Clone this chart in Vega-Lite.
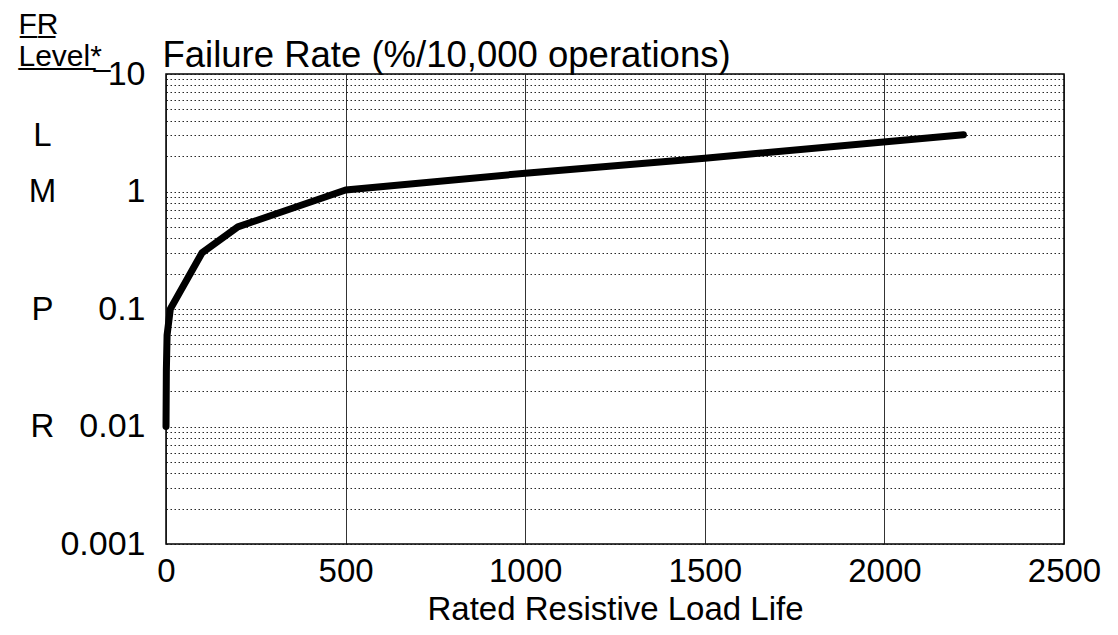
{
  "$schema": "https://vega.github.io/schema/vega-lite/v6.json",
  "autosize": {"type": "none"},
  "width": 898,
  "height": 470,
  "padding": {"left": 166, "top": 74, "right": 54, "bottom": 91},
  "background": "white",
  "config": {
    "view": {"stroke": "black", "strokeWidth": 1.5},
    "font": "Liberation Sans",
    "axis": {"labelFont": "Liberation Sans", "titleFont": "Liberation Sans", "labelColor": "black", "titleColor": "black", "titleFontWeight": "normal"}
  },
  "layer": [
    {
      "data": {"values": [
        {"life": 0, "rate": 0.01},
        {"life": 1, "rate": 0.03},
        {"life": 3, "rate": 0.06},
        {"life": 12, "rate": 0.1},
        {"life": 100, "rate": 0.3},
        {"life": 200, "rate": 0.5},
        {"life": 500, "rate": 1.03},
        {"life": 1000, "rate": 1.43},
        {"life": 1500, "rate": 1.92},
        {"life": 2220, "rate": 3.04}
      ]},
      "mark": {"type": "line", "color": "black", "strokeWidth": 7, "strokeCap": "round", "strokeJoin": "round"},
      "encoding": {
        "x": {
          "field": "life", "type": "quantitative",
          "scale": {"domain": [0, 2500], "nice": false, "zero": false},
          "axis": {
            "title": "Rated Resistive Load Life",
            "values": [0, 500, 1000, 1500, 2000, 2500],
            "format": "d",
            "domain": false, "ticks": false, "tickSize": 0,
            "labelFontSize": 33, "labelPadding": 11, "labelFlush": false, "labelOverlap": false,
            "grid": true, "gridColor": "#111", "gridWidth": 1, "gridOpacity": 0.85,
            "titleFontSize": 33, "titleBaseline": "top", "titleY": 49
          }
        },
        "y": {
          "field": "rate", "type": "quantitative",
          "scale": {"type": "log", "domain": [0.001, 10], "nice": false},
          "axis": {
            "title": "Failure Rate (%/10,000 operations)",
            "titleAngle": 0, "titleAlign": "left", "titleBaseline": "alphabetic",
            "titleX": -4, "titleY": -8, "titleFontSize": 36.5,
            "values": [0.001, 0.002, 0.003, 0.004, 0.005, 0.006, 0.007, 0.008, 0.009,
                       0.01, 0.02, 0.03, 0.04, 0.05, 0.06, 0.07, 0.08, 0.09,
                       0.1, 0.2, 0.3, 0.4, 0.5, 0.6, 0.7, 0.8, 0.9,
                       1, 2, 3, 4, 5, 6, 7, 8, 9, 10],
            "format": "~g",
            "labelExpr": "indexof([0.001, 0.01, 0.1, 1, 10], datum.value) >= 0 ? datum.label : ''",
            "labelOverlap": false, "labelBound": false, "labelFlush": false,
            "labelFontSize": 34, "labelPadding": 21,
            "domain": false, "ticks": false, "tickSize": 0,
            "grid": true, "gridColor": "#111", "gridWidth": 1, "gridDash": [1.5, 2.5], "gridOpacity": 0.9
          }
        }
      }
    },
    {
      "data": {"values": [
        {"level": "L", "rate": 3},
        {"level": "M", "rate": 1},
        {"level": "P", "rate": 0.1},
        {"level": "R", "rate": 0.01}
      ]},
      "mark": {"type": "point", "opacity": 0},
      "encoding": {
        "y": {
          "field": "rate", "type": "quantitative",
          "axis": {
            "orient": "left",
            "title": ["F\u0332R\u0332", "L\u0332e\u0332v\u0332e\u0332l\u0332*\u0332"],
            "titleAngle": 0, "titleAlign": "left", "titleBaseline": "alphabetic",
            "titleX": -148, "titleY": -41, "titleFontSize": 30, "titleLineHeight": 32,
            "values": [3, 1, 0.1, 0.01],
            "labelExpr": "datum.value == 3 ? 'L' : datum.value == 1 ? 'M' : datum.value == 0.1 ? 'P' : 'R'",
            "labelAlign": "center", "labelPadding": 124, "labelFontSize": 33,
            "labelOverlap": false, "labelBound": false, "labelFlush": false,
            "domain": false, "ticks": false, "tickSize": 0, "grid": false
          }
        }
      }
    }
  ],
  "resolve": {"axis": {"y": "independent"}}
}
